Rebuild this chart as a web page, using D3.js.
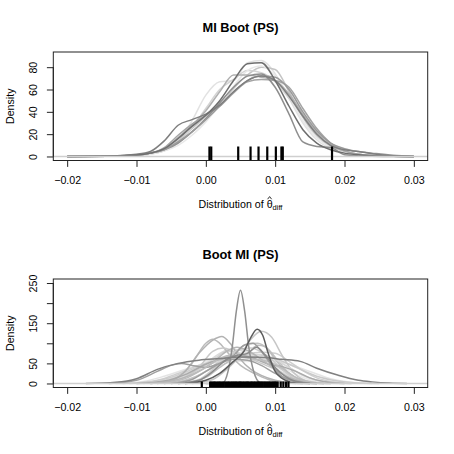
<!DOCTYPE html>
<html>
<head>
<meta charset="utf-8">
<script src="https://cdn.jsdelivr.net/npm/d3@7"></script>
<style>
  body { margin: 0; background: #fff; }
  svg { display: block; font-family: "Liberation Sans", Arial, Helvetica, sans-serif; }
</style>
</head>
<body>
<script>
// x values below are in units of 1e-3
var X_UNIT = 1e-3;

var titles = ["MI Boot (PS)", "Boot MI (PS)"];
var xTicks = [-0.02, -0.01, 0.00, 0.01, 0.02, 0.03];
var xLim = [-0.02, 0.03];
var yLimTop = [0, 90];
var yLimBottom = [0, 250];
var yTicksTop = [0, 20, 40, 60, 80];
var yTicksBottom = [0, 50, 100, 150, 200, 250];
var yLabelsBottom = ["0", "50", "", "150", "", "250"];

// top panel: one density per imputation on a shared grid
var topGrid = [-20, -14, -10, -8, -6, -4, -2, 0, 2, 4, 6, 8, 10, 12, 14, 16, 18, 20, 22, 24, 27, 30];
var topCurves = [
  [0, 0.2, 1, 2.5, 5, 13, 32, 55, 67, 68, 84, 86, 74, 52, 30, 15, 7, 3, 1.5, 0.6, 0.2, 0],
  [0, 0.2, 1, 3, 6, 14, 25, 36, 47, 61, 73, 80, 78, 58, 35, 18, 9, 4, 2, 0.8, 0.2, 0],
  [0, 0.2, 1, 2, 5, 12, 26, 43, 60, 69, 77, 75, 67, 52, 36, 22, 11, 5, 2, 1, 0.3, 0],
  [0, 0.2, 0.8, 2, 5, 10, 19, 31, 46, 63, 77, 81, 72, 54, 32, 17, 8, 3.5, 1.5, 0.5, 0.1, 0],
  [0, 0.2, 1, 3, 7, 17, 28, 41, 58, 73, 73, 71, 68, 56, 38, 21, 10, 5, 2, 0.8, 0.2, 0],
  [0, 0.3, 1.2, 3, 8, 19, 29, 37, 45, 57, 67, 69, 68, 62, 43, 25, 12, 5, 2, 0.8, 0.2, 0],
  [0, 0.3, 1.5, 3, 6, 12, 22, 34, 48, 62, 72, 74, 62, 38, 13, 9, 8, 1.5, 0.5, 0.2, 0, 0],
  [0, 0.3, 1, 3, 6, 13, 22, 33, 45, 58, 68, 72, 71, 60, 40, 23, 12, 7, 4.5, 3, 1, 0],
  [0, 0.5, 2, 4.5, 14, 28, 33, 38, 46, 58, 68, 72, 68, 54, 36, 20, 10, 6, 4.5, 2.5, 0.6, 0],
  [0, 0.3, 1.2, 3, 7, 16, 27, 37, 50, 68, 83, 84, 68, 45, 24, 12, 6, 3, 1.5, 0.7, 0.2, 0]
];
var topColors = ["#e2e2e2", "#c4c4c4", "#d4d4d4", "#e8e8e8", "#b0b0b0", "#a4a4a4", "#8e8e8e", "#9a9a9a", "#7e7e7e", "#6e6e6e"];
var topRug = [0.00052, 0.00078, 0.00467, 0.00645, 0.0076, 0.00886, 0.0101, 0.0109, 0.0111, 0.0182];

// bottom panel: one density per bootstrap sample, [x (1e-3), density]
var bottomCurves = [
  [[-13, 0], [-9, 5], [-6, 18], [-3, 35], [0, 50], [3, 60], [6, 65], [9, 60], [12, 48], [15, 30], [18, 12], [21, 3], [24, 0]],
  [[-8, 0], [-5, 10], [-2, 35], [0, 55], [2, 65], [4, 60], [6, 55], [8, 58], [10, 50], [12, 32], [14, 15], [16, 5], [19, 0]],
  [[-10, 0], [-6, 5], [-3, 20], [0, 50], [2, 75], [3.5, 85], [5, 82], [7, 70], [9, 50], [11, 28], [13, 12], [15, 4], [18, 0]],
  [[-5, 0], [-2, 12], [0, 30], [2, 45], [4, 55], [6, 58], [8, 60], [10, 55], [12, 40], [14, 20], [16, 8], [18, 2], [20, 0]],
  [[-7, 0], [-4, 10], [-1, 35], [1.5, 65], [3, 80], [4.5, 78], [6, 70], [8, 62], [10, 45], [12, 22], [14, 8], [16, 2], [18, 0]],
  [[-11, 0], [-7, 8], [-4, 25], [-1, 45], [2, 58], [5, 70], [8, 78], [10, 75], [12, 55], [14, 32], [16, 14], [18, 5], [21, 0]],
  [[-12, 0], [-8, 4], [-5, 15], [-2, 35], [1, 55], [4, 68], [7, 72], [10, 62], [13, 40], [16, 18], [19, 6], [22, 1], [25, 0]],
  [[-2, 0], [1, 10], [3, 35], [5, 70], [6.5, 110], [8, 130], [9.5, 115], [11, 70], [12.5, 30], [14, 10], [16, 2], [18, 0]],
  [[-6, 0], [-3, 8], [0, 30], [2, 55], [4, 75], [6, 98], [7.5, 100], [9, 85], [10.5, 55], [12, 25], [14, 7], [16, 0]],
  [[-3, 0], [0, 15], [2, 40], [4, 62], [6, 75], [7.5, 95], [8.5, 92], [10, 60], [11.5, 30], [13, 10], [15, 2], [17, 0]],
  [[-7, 0], [-4, 15], [-2, 50], [0, 100], [1, 110], [2, 100], [3.5, 70], [5, 45], [7, 25], [9, 10], [11, 3], [13, 0]],
  [[-9, 0], [-6, 8], [-3, 25], [0, 45], [2, 55], [4, 62], [6, 70], [8, 72], [10, 60], [12, 40], [14, 20], [16, 8], [19, 1], [21, 0]],
  [[-6, 0], [-3, 15], [-1, 40], [1, 80], [2.5, 88], [4, 80], [6, 65], [8, 50], [10, 35], [12, 15], [14, 4], [16, 0]],
  [[-8, 0], [-5, 8], [-3, 30], [-1, 75], [1, 108], [2.3, 117], [3.5, 100], [5, 60], [6.5, 35], [8, 20], [10, 8], [12, 2], [14, 0]],
  [[-4, 0], [-1, 10], [1, 35], [3, 65], [5, 85], [6.5, 88], [8, 78], [9.5, 60], [11, 35], [13, 12], [15, 3], [17, 0]],
  [[-10, 0], [-6, 6], [-3, 22], [0, 48], [3, 65], [5, 70], [7, 62], [9, 48], [11, 42], [13, 30], [15, 14], [17, 5], [20, 0]],
  [[-8, 0], [-5, 6], [-2, 22], [1, 52], [3, 80], [4.5, 90], [6, 82], [8, 60], [10, 35], [12, 15], [14, 5], [17, 0]],
  [[-14, 0], [-10, 8], [-7, 30], [-5, 45], [-3.5, 50], [-2, 45], [0, 40], [2, 50], [4, 60], [6, 58], [8, 45], [10, 25], [12, 10], [14, 3], [16, 0]],
  [[-6, 0], [-3, 12], [0, 40], [2, 62], [3.5, 70], [5, 66], [7, 60], [9, 55], [11, 38], [13, 15], [15, 4], [17, 0]],
  [[0, 0], [2.4, 1], [3.2, 30], [3.8, 90], [4.4, 180], [5, 232], [5.6, 180], [6.2, 90], [6.9, 30], [7.8, 3], [9, 0]],
  [[-5, 0], [-2, 10], [0, 30], [2, 50], [4, 70], [5.5, 95], [6.8, 100], [8, 80], [9.5, 45], [11, 18], [13, 4], [15, 0]],
  [[-4, 0], [-1, 8], [1, 30], [3, 60], [4.5, 70], [6, 75], [7.3, 90], [8.5, 72], [10, 40], [12, 12], [14, 2], [16, 0]],
  [[-17.3, 0], [-13, 3], [-10, 12], [-7, 35], [-4, 50], [-1, 58], [2, 62], [5, 66], [8, 65], [11, 60], [13.6, 55], [16, 38], [19, 21], [22, 8], [24, 4], [26.5, 1], [29, 0]],
  [[-3, 0], [0, 8], [2, 25], [4, 55], [5.5, 80], [6.5, 115], [7.4, 135], [8.2, 120], [9, 75], [10, 30], [11.5, 8], [13, 1], [15, 0]]
];
var bottomColors = ["#e4e4e4", "#e8e8e8", "#dadada", "#dddddd", "#d2d2d2", "#cfcfcf", "#cacaca", "#c6c6c6",
  "#c2c2c2", "#bebebe", "#bababa", "#d6d6d6", "#c8c8c8", "#b2b2b2", "#cccccc", "#aaaaaa", "#b6b6b6",
  "#a0a0a0", "#bcbcbc", "#909090", "#9e9e9e", "#8a8a8a", "#808080", "#5c5c5c"];
var bottomRug = [-0.00058, 0.00062, 0.00079, 0.00097, 0.00116, 0.00131, 0.00152, 0.00170, 0.00187, 0.00206,
  0.00224, 0.00243, 0.00259, 0.00281, 0.00298, 0.00317, 0.00333, 0.00355, 0.00371, 0.00388, 0.00406, 0.00425,
  0.00439, 0.00457, 0.00476, 0.00492, 0.00507, 0.00526, 0.00544, 0.00559, 0.00580, 0.00597, 0.00611, 0.00629,
  0.00650, 0.00664, 0.00684, 0.00701, 0.00715, 0.00737, 0.00751, 0.00769, 0.00788, 0.00806, 0.00821, 0.00842,
  0.00857, 0.00876, 0.00892, 0.00911, 0.00927, 0.00946, 0.00963, 0.00979, 0.00997, 0.01016, 0.01036,
  0.01080, 0.01118, 0.01158, 0.01192];

var W = 454, H = 454;
var box = {left: 53.3, right: 427.7, top: 52, bottom: 160.5};
var panelH = 227;

var svg = d3.select("body").append("svg")
    .attr("width", W)
    .attr("height", H);

// R style axis range: limits padded by 4% each side
function padLim(lim) {
  var d = (lim[1] - lim[0]) * 0.04;
  return [lim[0] - d, lim[1] + d];
}

var x = d3.scaleLinear().domain(padLim(xLim)).range([box.left, box.right]);

var panels = [
  {title: titles[0], yLim: yLimTop, yTicks: yTicksTop, yLabels: yTicksTop.map(String),
   curves: topCurves.map(function(ys) { return ys.map(function(y, i) { return [topGrid[i], y]; }); }),
   colors: topColors, rug: topRug, rugLen: 14},
  {title: titles[1], yLim: yLimBottom, yTicks: yTicksBottom, yLabels: yLabelsBottom,
   curves: bottomCurves, colors: bottomColors, rug: bottomRug, rugLen: 6}
];

function fmtX(v) {
  var s = d3.format(".2f")(Math.abs(v));
  return (v < 0 ? "\u2212" : "") + s;
}

panels.forEach(function(p, k) {
  var g = svg.append("g").attr("transform", "translate(0," + (k * panelH) + ")");
  var y = d3.scaleLinear().domain(padLim(p.yLim)).range([box.bottom, box.top]);

  var line = d3.line()
      .x(function(d) { return x(d[0] * X_UNIT); })
      .y(function(d) { return y(d[1]); })
      .curve(d3.curveMonotoneX);

  g.selectAll(".dens")
      .data(p.curves)
      .enter().append("path")
      .attr("class", "dens")
      .attr("d", line)
      .attr("fill", "none")
      .attr("stroke", function(d, i) { return p.colors[i]; })
      .attr("stroke-width", 1.5);

  // zero line, drawn over the curve tails
  g.append("line")
      .attr("x1", box.left).attr("x2", box.right)
      .attr("y1", y(0)).attr("y2", y(0))
      .attr("stroke", "#cfcfcf").attr("stroke-width", 1.6);

  // rug
  g.selectAll(".rug")
      .data(p.rug)
      .enter().append("line")
      .attr("class", "rug")
      .attr("x1", function(d) { return x(d); })
      .attr("x2", function(d) { return x(d); })
      .attr("y1", box.bottom)
      .attr("y2", box.bottom - p.rugLen)
      .attr("stroke", "#000")
      .attr("stroke-width", 2.2);

  // box
  g.append("rect")
      .attr("x", box.left).attr("y", box.top)
      .attr("width", box.right - box.left).attr("height", box.bottom - box.top)
      .attr("fill", "none").attr("stroke", "#222").attr("stroke-width", 1);

  // x axis
  var xa = g.append("g")
      .attr("transform", "translate(0," + box.bottom + ")")
      .call(d3.axisBottom(x).tickValues(xTicks).tickSize(6.4).tickPadding(0).tickFormat(fmtX));
  xa.select(".domain").attr("d", "M" + x(xTicks[0]) + ",0H" + x(xTicks[xTicks.length - 1])).attr("stroke", "#222");
  xa.selectAll(".tick line").attr("stroke", "#222");
  xa.selectAll(".tick text")
      .attr("y", 23.5).attr("dy", null)
      .attr("font-size", "10.67px").attr("font-family", "Liberation Sans, Arial, sans-serif").attr("fill", "#000");

  // y axis
  var ya = g.append("g")
      .attr("transform", "translate(" + box.left + ",0)")
      .call(d3.axisLeft(y).tickValues(p.yTicks).tickSize(6.4)
        .tickFormat(function(d, i) { return p.yLabels[i]; }));
  ya.select(".domain").attr("d", "M0," + y(p.yTicks[0]) + "V" + y(p.yTicks[p.yTicks.length - 1])).attr("stroke", "#222");
  ya.selectAll(".tick line").attr("stroke", "#222");
  ya.selectAll(".tick text")
      .attr("x", null).attr("dy", null)
      .attr("text-anchor", "middle")
      .attr("transform", "translate(-16.6,0) rotate(-90)")
      .attr("font-size", "10.67px").attr("font-family", "Liberation Sans, Arial, sans-serif").attr("fill", "#000");

  // title
  g.append("text")
      .attr("x", (box.left + box.right) / 2).attr("y", 31.5)
      .attr("text-anchor", "middle")
      .attr("font-size", "12.8px").attr("font-weight", "bold")
      .text(p.title);

  // y label
  g.append("text")
      .attr("transform", "translate(13.5," + ((box.top + box.bottom) / 2) + ") rotate(-90)")
      .attr("text-anchor", "middle")
      .attr("font-size", "10.67px")
      .text("Density");

  // x label with theta hat and subscript
  var xl = g.append("text")
      .attr("x", (box.left + box.right) / 2).attr("y", 207.7)
      .attr("text-anchor", "middle")
      .attr("font-size", "10.67px");
  xl.append("tspan").text("Distribution of \u03b8");
  xl.append("tspan").attr("dy", 2.5).attr("font-size", "7.5px").text("diff");
  // hat accent drawn as a small chevron over the theta
  var ext = xl.node().getExtentOfChar(16);
  var hx = ext.x + ext.width / 2;
  g.append("path")
      .attr("d", "M" + (hx - 2) + ",199.2L" + hx + ",196.6L" + (hx + 2) + ",199.2")
      .attr("fill", "none").attr("stroke", "#000").attr("stroke-width", 0.8);
});
</script>
</body>
</html>
